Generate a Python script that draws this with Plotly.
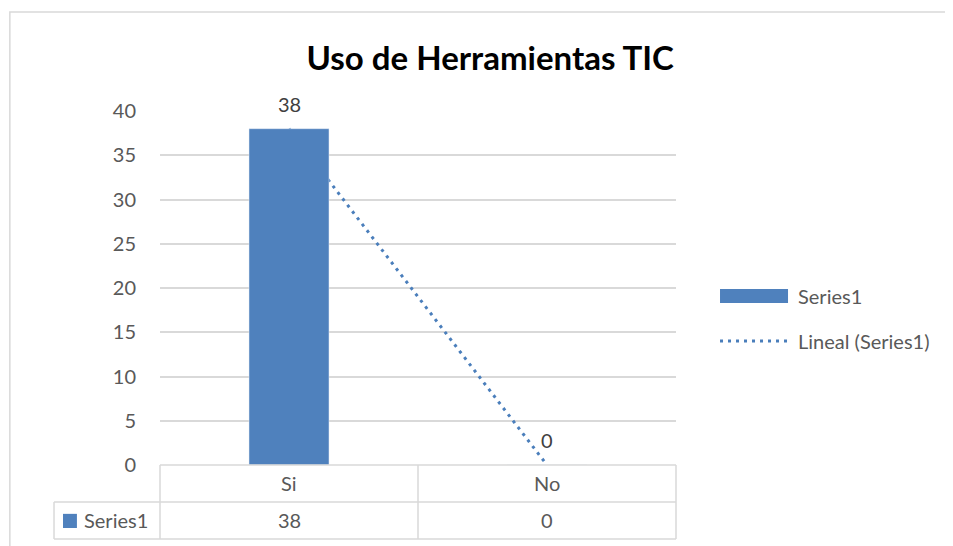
import numpy as np
import plotly.graph_objects as go

# data
categories = ["Si", "No"]
values = [38, 0]
series_name = "Series1"
trend_name = "Lineal (Series1)"
title_text = "Uso de Herramientas TIC"

BAR = "#4f81bd"
LINE = "#4a7ebb"
GRID = "#d9d9d9"
TXT = "#595959"
FONT = "Lato, Open Sans, sans-serif"

# linear trend through the series (Excel-style)
idx = np.arange(len(values))
slope, icpt = np.polyfit(idx, values, 1)
trend = slope * idx + icpt

fig = go.Figure()

# trendline sits on the base axes, bars on overlaid axes so they draw on top
fig.add_trace(go.Scatter(x=categories, y=trend, mode="lines", name=trend_name,
                         line=dict(color=LINE, width=3, dash="3px,5px"),
                         showlegend=False, xaxis="x", yaxis="y"))
fig.add_trace(go.Bar(x=categories, y=values, name=series_name, marker_color=BAR,
                     width=0.31, showlegend=False, xaxis="x2", yaxis="y2"))

# data labels
for c, v in zip(categories, values):
    fig.add_annotation(x=c, y=v, xref="x", yref="y", text=str(v), showarrow=False,
                       yshift=25, font=dict(size=20, color="#404040", family=FONT))

shapes = []
# chart area border
shapes.append(dict(type="rect", xref="paper", yref="paper", x0=-0.291, x1=1.8,
                   y0=-0.4, y1=1.28, line=dict(color=GRID, width=1.5)))
# data table grid
row1, row2 = -0.1045, -0.209
shapes.append(dict(type="line", xref="paper", yref="paper", x0=0, x1=1,
                   y0=0, y1=0, line=dict(color=GRID, width=1.5)))
for yy in [row1, row2]:
    shapes.append(dict(type="line", xref="paper", yref="paper", x0=-0.2054, x1=1,
                       y0=yy, y1=yy, line=dict(color=GRID, width=1.5)))
shapes.append(dict(type="line", xref="paper", yref="paper", x0=-0.2054, x1=-0.2054,
                   y0=row1, y1=row2, line=dict(color=GRID, width=1.5)))
for xx in [0, 0.5, 1]:
    shapes.append(dict(type="line", xref="paper", yref="paper", x0=xx, x1=xx,
                       y0=0, y1=row2, line=dict(color=GRID, width=1.5)))
# table legend key
shapes.append(dict(type="rect", xref="paper", yref="paper", x0=-0.188, x1=-0.161,
                   y0=-0.178, y1=-0.138, fillcolor=BAR, line=dict(width=0)))
# side legend keys
shapes.append(dict(type="rect", xref="paper", yref="paper", x0=1.0853, x1=1.2171,
                   y0=0.4576, y1=0.4972, fillcolor=BAR, line=dict(width=0)))
shapes.append(dict(type="line", xref="paper", yref="paper", x0=1.0853, x1=1.2171,
                   y0=0.3503, y1=0.3503, line=dict(color=LINE, width=3, dash="3px,5px")))
fig.update_layout(shapes=shapes)

tf = dict(size=20, color=TXT, family=FONT)
# table text
for c, v in zip(categories, values):
    fig.add_annotation(x=c, y=(0 + row1) / 2, xref="x", yref="paper", text=c,
                       xanchor="center", yanchor="middle", showarrow=False, font=tf)
    fig.add_annotation(x=c, y=(row1 + row2) / 2, xref="x", yref="paper", text=str(v),
                       xanchor="center", yanchor="middle", showarrow=False, font=tf)
fig.add_annotation(x=-0.1512, y=(row1 + row2) / 2, xref="paper", yref="paper",
                   text=series_name, xanchor="left", yanchor="middle", showarrow=False, font=tf)
# side legend text
fig.add_annotation(x=1.2326, y=0.4774, xref="paper", yref="paper", text=series_name,
                   xanchor="left", yanchor="middle", showarrow=False, font=tf)
fig.add_annotation(x=1.2326, y=0.3503, xref="paper", yref="paper", text=trend_name,
                   xanchor="left", yanchor="middle", showarrow=False, font=tf)

# page body has an 8px margin, so the figure is shifted up/left by 8px to compensate
fig.update_layout(
    width=953, height=546,
    margin=dict(l=152, r=285, t=103, b=89),
    plot_bgcolor="white", paper_bgcolor="white",
    title=dict(text="<b>" + title_text + "</b>", xref="paper", x=0.64, xanchor="center",
               y=1 - 50 / 546, yanchor="middle",
               font=dict(size=33, color="black", family=FONT)),
    xaxis=dict(type="category", range=[-0.5, 1.5], showticklabels=False, showgrid=False,
               zeroline=False, showline=False),
    yaxis=dict(range=[0, 40], dtick=5, showgrid=True, gridcolor=GRID, gridwidth=1.5,
               zeroline=False, showline=False, ticks="", ticklabelstandoff=23,
               tickfont=dict(size=20, color=TXT, family=FONT)),
    xaxis2=dict(type="category", range=[-0.5, 1.5], overlaying="x", visible=False),
    yaxis2=dict(range=[0, 40], overlaying="y", visible=False),
)

fig.write_html("out.html")
